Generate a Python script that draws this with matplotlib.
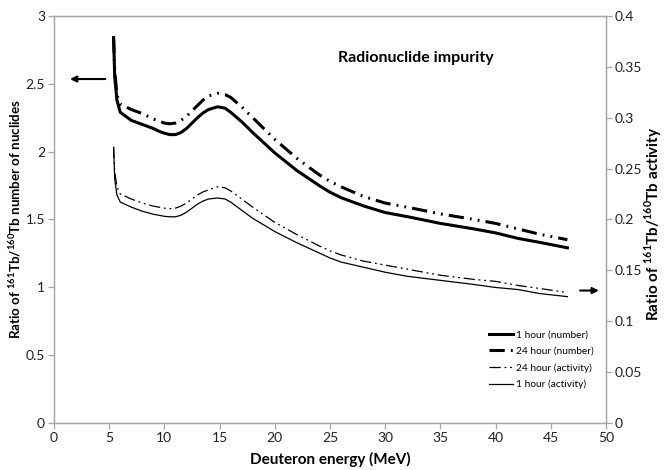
import matplotlib.pyplot as plt
import numpy as np

plt.rcParams['font.family'] = ['Lato', 'DejaVu Sans']
plt.rcParams['mathtext.fontset'] = 'custom'
plt.rcParams['mathtext.rm'] = 'Lato'
plt.rcParams['mathtext.bf'] = 'Lato:bold'

# deuteron energy (MeV)
energy = [5.4, 5.5, 5.7, 6, 7, 8, 9, 9.5, 10, 10.5, 11, 11.5, 12, 12.5, 13, 13.5,
          14, 14.8, 15.5, 16, 17, 18, 20, 22, 24, 25, 26, 28, 30, 32, 35, 38, 40,
          42, 44, 46.5]

# number-of-nuclides ratio (left axis)
num_1h = [2.84, 2.55, 2.38, 2.29, 2.23, 2.20, 2.17, 2.15, 2.135, 2.125, 2.125,
          2.14, 2.17, 2.21, 2.25, 2.285, 2.31, 2.33, 2.32, 2.29, 2.22, 2.14, 1.99,
          1.86, 1.75, 1.70, 1.66, 1.60, 1.55, 1.52, 1.47, 1.43, 1.40, 1.36, 1.33,
          1.29]
num_24h = [2.84, 2.60, 2.42, 2.35, 2.31, 2.28, 2.24, 2.225, 2.21, 2.205, 2.21,
           2.23, 2.26, 2.30, 2.34, 2.38, 2.41, 2.43, 2.42, 2.40, 2.33, 2.25, 2.09,
           1.95, 1.83, 1.78, 1.74, 1.67, 1.62, 1.59, 1.54, 1.50, 1.47, 1.43, 1.39,
           1.35]

# activity ratio (right axis)
act_1h = [0.271, 0.240, 0.224, 0.217, 0.212, 0.208, 0.205, 0.204, 0.203, 0.2025,
          0.2025, 0.204, 0.207, 0.211, 0.215, 0.218, 0.220, 0.221, 0.220, 0.217,
          0.209, 0.201, 0.188, 0.177, 0.167, 0.162, 0.158, 0.153, 0.148, 0.144,
          0.140, 0.136, 0.133, 0.131, 0.127, 0.124]
act_24h = [0.271, 0.247, 0.232, 0.225, 0.220, 0.216, 0.213, 0.212, 0.211, 0.2105,
           0.211, 0.213, 0.216, 0.220, 0.224, 0.227, 0.229, 0.232, 0.231, 0.228,
           0.220, 0.212, 0.197, 0.185, 0.174, 0.169, 0.165, 0.159, 0.155, 0.151,
           0.145, 0.141, 0.139, 0.135, 0.132, 0.128]

grey = '#a6a6a6'

fig = plt.figure(figsize=(6.64, 4.70), dpi=100)
ax = fig.add_axes([0.0813, 0.1006, 0.8314, 0.8654])
ax2 = ax.twinx()

l1, = ax.plot(energy, num_1h, color='black', lw=2.2, label='1 hour (number)')
l2, = ax.plot(energy, num_24h, color='black', lw=2.2,
              dashes=(5, 2, 0.6, 2, 0.6, 2), label='24 hour (number)')
l3, = ax2.plot(energy, act_24h, color='black', lw=0.9,
               dashes=(9, 3, 1.5, 3, 1.5, 3), label='24 hour (activity)')
l4, = ax2.plot(energy, act_1h, color='black', lw=0.9, label='1 hour (activity)')

ax.set_xlim(0, 50)
ax.set_ylim(0, 3)
ax2.set_ylim(0, 0.4)
ax.set_xticks(np.arange(0, 51, 5))
ax.set_yticks(np.arange(0, 3.01, 0.5))
ax.set_yticklabels(['0', '0.5', '1', '1.5', '2', '2.5', '3'])
ax2.set_yticks(np.arange(0, 0.401, 0.05))
ax2.set_yticklabels(['0', '0.05', '0.1', '0.15', '0.2', '0.25', '0.3', '0.35', '0.4'])

for a in (ax, ax2):
    for s in a.spines.values():
        s.set_color(grey)
        s.set_linewidth(0.9)
    a.tick_params(colors=grey, labelcolor='#222222', labelsize=10,
                  length=4, width=0.9, direction='out', pad=2.5)

ax.set_xlabel('Deuteron energy (MeV)', fontsize=11, fontweight='bold', labelpad=6)
ax.set_ylabel(r'Ratio of $^{\mathbf{161}}$Tb/$^{\mathbf{160}}$Tb number of nuclides',
              fontsize=9.6, fontweight='bold')
ax.yaxis.set_label_coords(-0.056, 0.5)
ax2.set_ylabel(r'Ratio of $^{\mathbf{161}}$Tb/$^{\mathbf{160}}$Tb activity',
               fontsize=11, fontweight='bold')
ax2.yaxis.set_label_coords(1.066, 0.49)

ax.text(25.7, 2.69, 'Radionuclide impurity', fontsize=11.5, fontweight='bold',
        va='center', ha='left')

ax.annotate('', xy=(1.2, 2.535), xytext=(4.9, 2.535),
            arrowprops=dict(arrowstyle='-|>', color='black', lw=1.5,
                            mutation_scale=9))
ax2.annotate('', xy=(49.6, 0.130), xytext=(47.4, 0.130),
             arrowprops=dict(arrowstyle='-|>', color='black', lw=1.5,
                             mutation_scale=9))

ax2.legend(handles=[l1, l2, l3, l4], loc='lower right', bbox_to_anchor=(0.995, 0.06),
           frameon=False, fontsize=7.3, handlelength=2.4, handletextpad=0.3,
           labelspacing=0.7)

fig.savefig('out.png', dpi=100)
